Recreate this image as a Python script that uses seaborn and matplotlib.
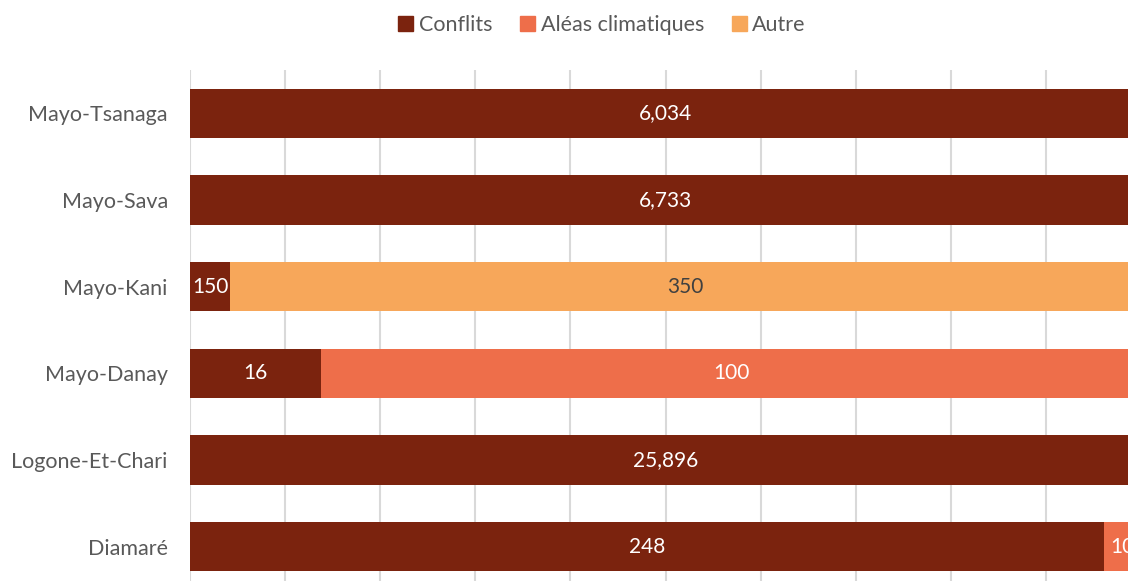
import matplotlib
matplotlib.use("Agg")
import matplotlib.pyplot as plt
import seaborn as sns
import pandas as pd
import numpy as np

categories = ["Mayo-Tsanaga", "Mayo-Sava", "Mayo-Kani", "Mayo-Danay", "Logone-Et-Chari", "Diamaré"]
# shares (%)
conflits_pct = [100.0, 100.0, 4.2, 13.8, 100.0, 96.1]
aleas_pct = [0.0, 0.0, 0.0, 86.2, 0.0, 3.9]
autre_pct = [0.0, 0.0, 95.8, 0.0, 0.0, 0.0]
# data labels shown on the segments
conflits_lbl = ["6,034", "6,733", "150", "16", "25,896", "248"]
aleas_lbl = ["", "", "", "100", "", "10"]
autre_lbl = ["", "", "350", "", "", ""]

series = ["Conflits", "Aléas climatiques", "Autre"]
colors = ["#7B230E", "#EE6E4A", "#F7A75A"]
text_colors = ["white", "white", "#404040"]

sns.set_theme(style="white")
plt.rcParams["font.family"] = ["Lato", "DejaVu Sans"]
FS = 15.5
FS_DATA = 15

W, H = 1128, 581
fig = plt.figure(figsize=(W / 100, H / 100), dpi=100)
left, right, top, bottom = 190, 1141, 70, 590
ax = fig.add_axes([left / W, 1 - bottom / H, (right - left) / W, (bottom - top) / H])

df = pd.DataFrame({"cat": categories, "c": conflits_pct, "a": aleas_pct, "o": autre_pct})
df["c_cum"] = df["c"]
df["a_cum"] = df["c"] + df["a"]
df["o_cum"] = df["c"] + df["a"] + df["o"]

for col, color in [("o_cum", colors[2]), ("a_cum", colors[1]), ("c_cum", colors[0])]:
    sns.barplot(data=df, y="cat", x=col, orient="h", color=color, width=0.57,
                order=categories, ax=ax, saturation=1, linewidth=0, zorder=3)

ax.set_xlim(0, 100)
ax.set_ylim(5.5, -0.5)
ax.set_xticks(np.arange(0, 101, 10))
ax.set_xticklabels([])
ax.grid(axis="x", color="#D9D9D9", linewidth=1.5, zorder=0)
ax.grid(axis="y", visible=False)
ax.set_axisbelow(True)
for s in ax.spines.values():
    s.set_visible(False)
ax.tick_params(axis="y", length=0, pad=16, labelsize=FS, labelcolor="#595959")
ax.tick_params(axis="x", length=0)
ax.set_xlabel("")
ax.set_ylabel("")

for i in range(len(categories)):
    starts = [0, conflits_pct[i], conflits_pct[i] + aleas_pct[i]]
    widths = [conflits_pct[i], aleas_pct[i], autre_pct[i]]
    labels = [conflits_lbl[i], aleas_lbl[i], autre_lbl[i]]
    for k in range(3):
        if labels[k]:
            ax.text(starts[k] + widths[k] / 2, i, labels[k], ha="center", va="center",
                    color=text_colors[k], fontsize=FS_DATA, zorder=5, clip_on=False)

handles = [plt.Rectangle((0, 0), 1, 1, color=c) for c in colors]
fig.legend(handles, series, loc="center", bbox_to_anchor=(602 / W, 1 - 25 / H), ncol=3,
           frameon=False, fontsize=FS, handlelength=0.7, handleheight=0.7,
           handletextpad=0.25, columnspacing=1.3, labelcolor="#595959")

fig.savefig("out.png", dpi=100)
